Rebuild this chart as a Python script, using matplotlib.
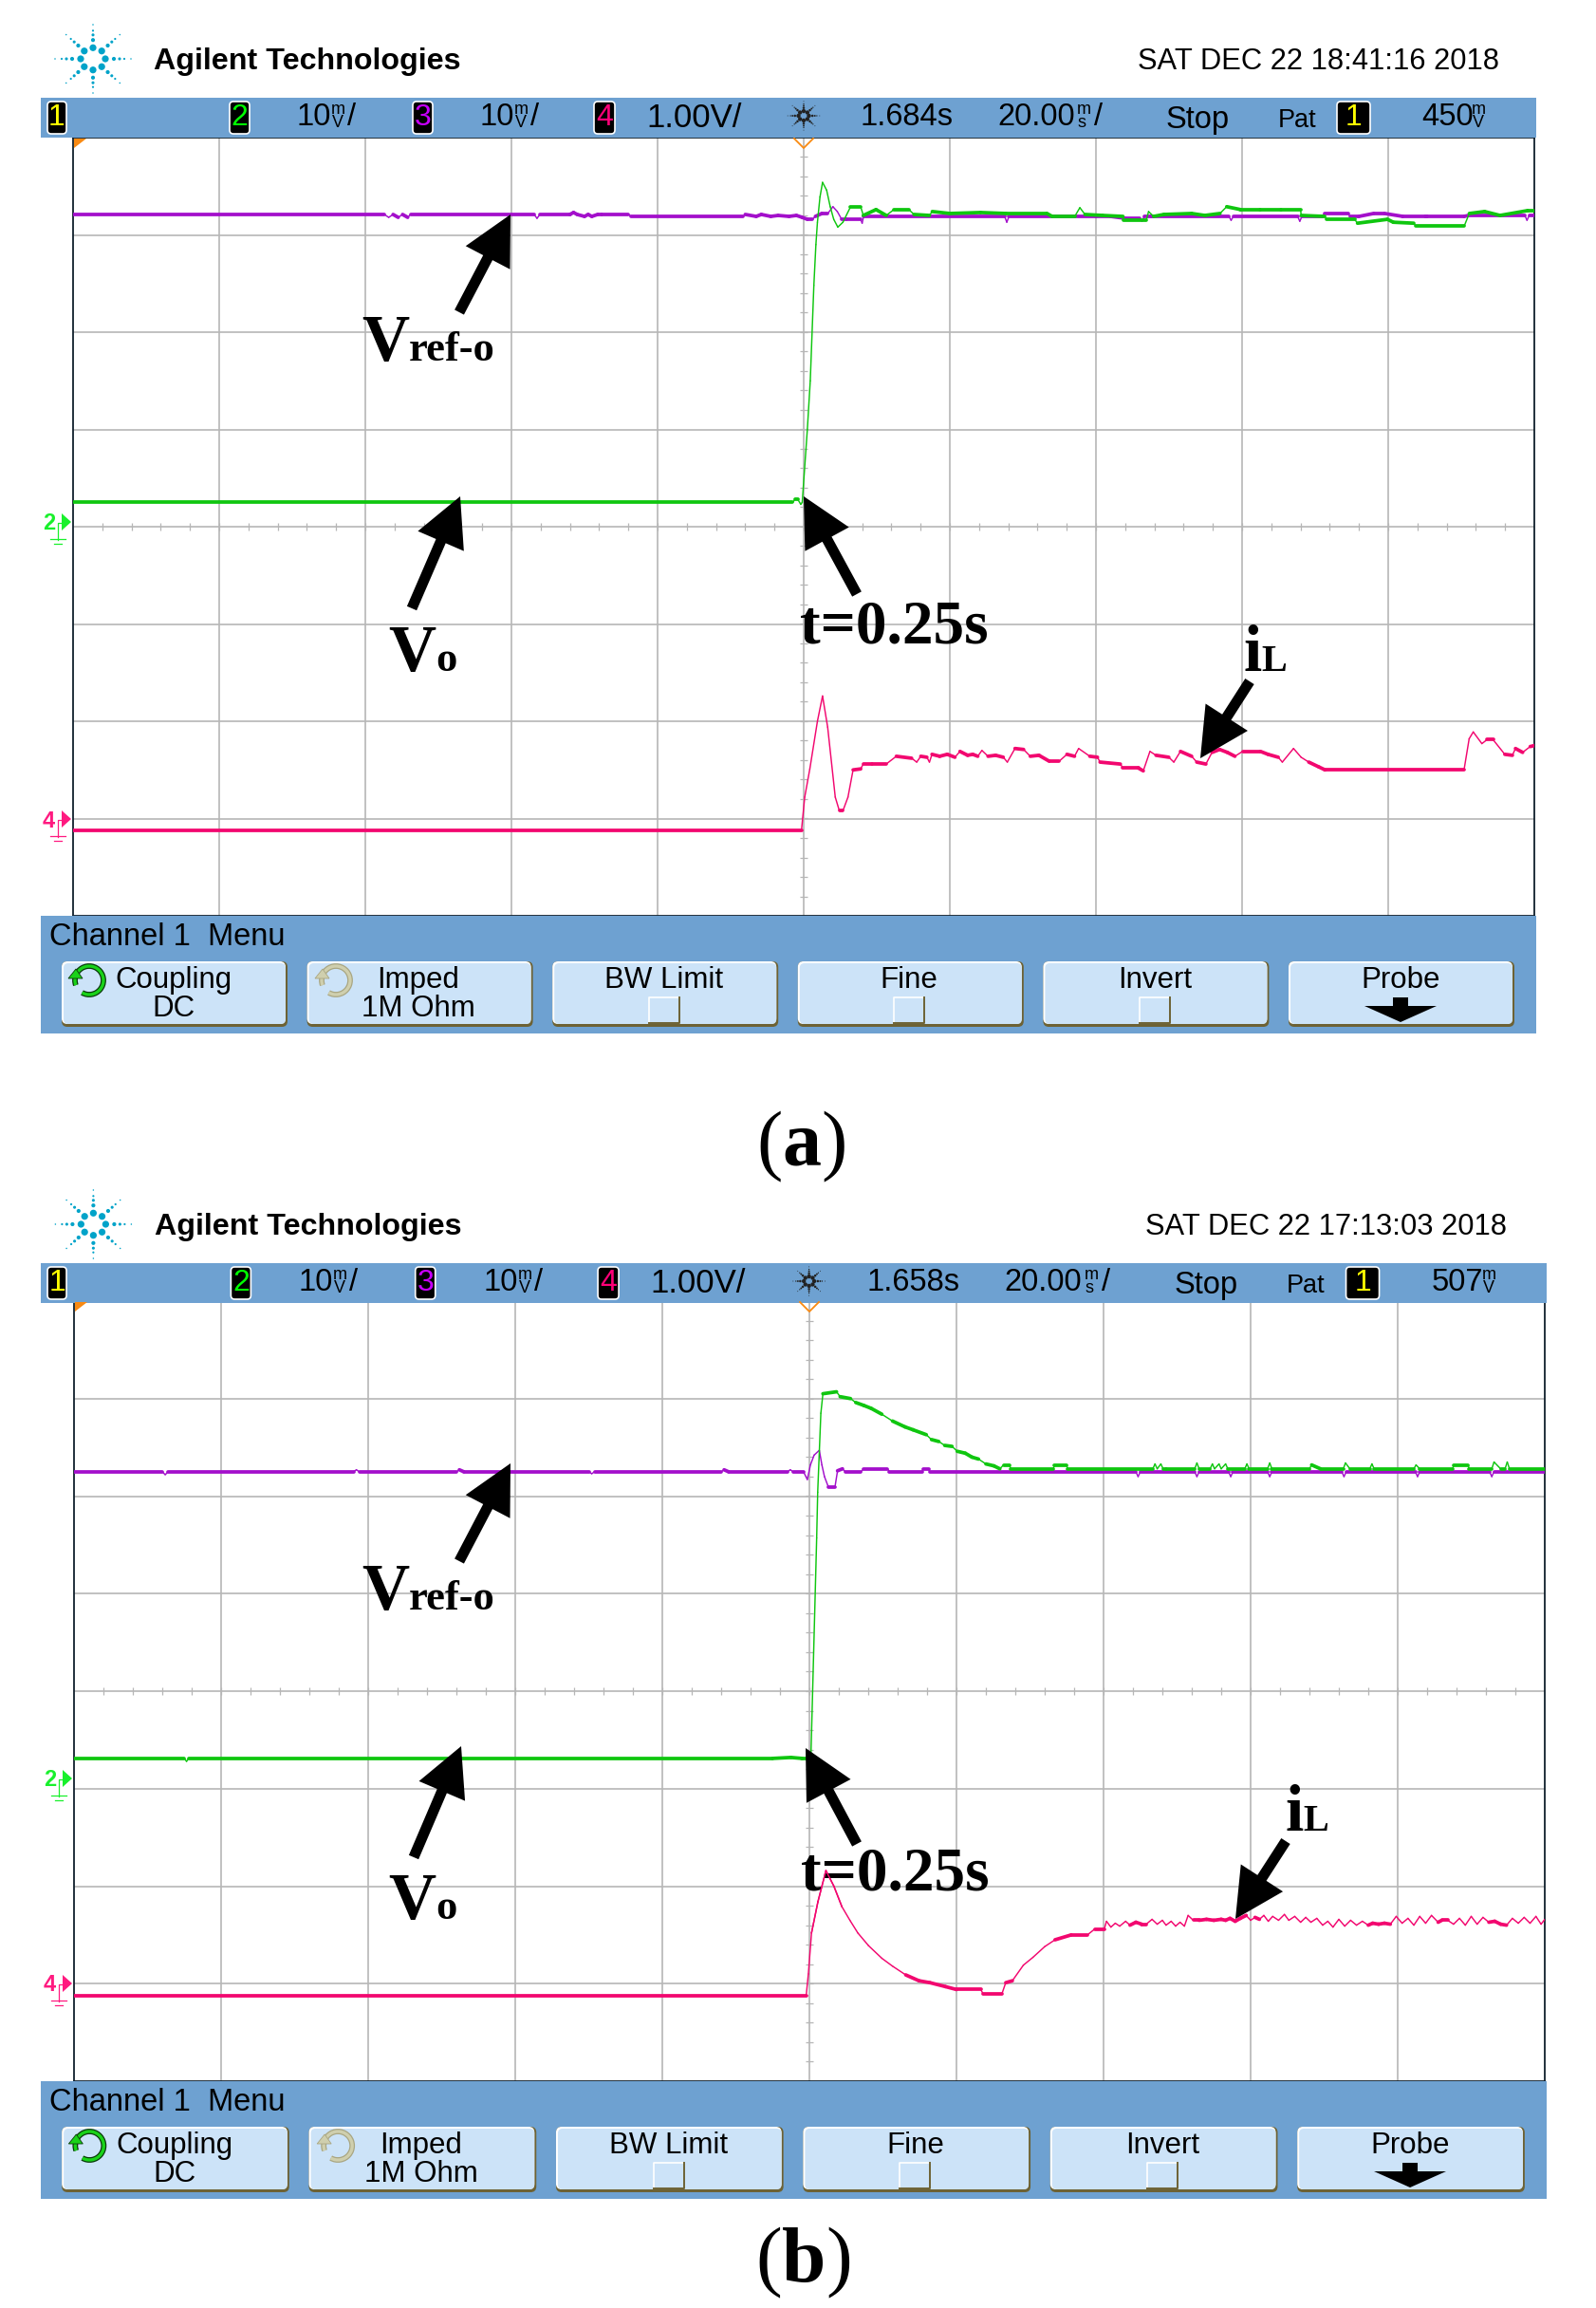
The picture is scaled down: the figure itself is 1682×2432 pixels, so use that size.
import numpy as np
import matplotlib
matplotlib.use('Agg')
import matplotlib.pyplot as plt
from matplotlib.collections import LineCollection
from matplotlib.patches import Rectangle, FancyBboxPatch, Polygon, Arc

# time in ms from the screen centre, level in divisions from the screen centre
a_purple_t = [-100, -57.4, -56.8, -56.2, -55.5, -54.9, -54.2, -53.8, -36.9, -36.5, -36.1, -32, -31.5, -31, -30, -29.5, -29, -28.2, -27.7, -24, -23.6, -8.3, -8, -6.5, -5.8, -4.5, -3.5, -2, -1, -0.2, 0.5, 1.2, 1.6, 2.5, 3.3, 4, 4.6, 5.2, 5.9, 7.8, 8, 8.2, 27.5, 27.8, 28.1, 40, 42, 44, 46, 46.3, 46.6, 47.5, 47.8, 58.2, 58.5, 58.8, 67.6, 67.9, 68.2, 71, 71.3, 74.5, 74.8, 76, 78, 79.5, 82, 85, 85.3, 90.4, 91, 98.7, 99, 99.3, 100]
a_purple_v = [3.21, 3.21, 3.18, 3.21, 3.18, 3.21, 3.18, 3.21, 3.21, 3.17, 3.21, 3.21, 3.23, 3.21, 3.19, 3.21, 3.19, 3.21, 3.21, 3.21, 3.19, 3.19, 3.21, 3.19, 3.21, 3.19, 3.2, 3.19, 3.2, 3.18, 3.16, 3.16, 3.19, 3.22, 3.22, 3.29, 3.24, 3.16, 3.16, 3.16, 3.12, 3.19, 3.19, 3.13, 3.19, 3.19, 3.19, 3.17, 3.17, 3.14, 3.19, 3.19, 3.19, 3.19, 3.15, 3.19, 3.19, 3.14, 3.19, 3.19, 3.22, 3.22, 3.19, 3.19, 3.22, 3.22, 3.19, 3.19, 3.19, 3.19, 3.2, 3.2, 3.15, 3.2, 3.2]

a_green_t = [-100, -1.5, -1.2, -0.8, -0.4, -0.2, 0.5, 0.9, 1.39, 1.67, 1.88, 2.23, 2.58, 3.14, 3.63, 4.11, 4.67, 5.37, 6.42, 7.8, 8.16, 9.9, 11.3, 12.34, 14.4, 15.1, 17.2, 17.6, 20, 24.2, 27.7, 33.3, 34, 37.1, 37.8, 38.5, 40.9, 43.7, 43.8, 46.9, 47.2, 47.9, 49.3, 53.1, 54.9, 56.97, 57.9, 59.8, 62.5, 65.3, 68, 68.1, 71.3, 71.6, 75.4, 75.8, 79.9, 80.7, 83.5, 83.8, 90.4, 91.1, 93.2, 95.3, 99.1, 100]
a_green_v = [0.25, 0.25, 0.28, 0.28, 0.23, 0.25, 1.0, 1.5, 2.48, 2.9, 3.13, 3.39, 3.54, 3.46, 3.29, 3.16, 3.08, 3.13, 3.29, 3.29, 3.2, 3.26, 3.2, 3.26, 3.26, 3.21, 3.2, 3.24, 3.22, 3.23, 3.22, 3.22, 3.19, 3.19, 3.28, 3.21, 3.2, 3.19, 3.15, 3.15, 3.24, 3.19, 3.21, 3.22, 3.2, 3.22, 3.29, 3.26, 3.26, 3.26, 3.26, 3.2, 3.19, 3.16, 3.16, 3.12, 3.16, 3.13, 3.12, 3.09, 3.09, 3.22, 3.24, 3.2, 3.25, 3.25]

a_pink_t = [-100, -0.3, 0.14, 0.84, 1.88, 2.58, 3.28, 4.32, 4.88, 5.37, 6.06, 6.76, 7.8, 8.15, 9.34, 11.29, 12.68, 14.77, 15.47, 16.03, 16.86, 17.21, 17.56, 18.61, 19.65, 20.7, 21.39, 22.44, 23.14, 23.83, 24.39, 25.23, 26.27, 27.32, 27.87, 28.92, 30.1, 31.01, 32.2, 33.59, 34.98, 36.03, 37.07, 37.63, 39.16, 40.21, 40.56, 43.34, 43.69, 45.78, 46.48, 47.39, 48.22, 49.97, 50.66, 51.57, 53.1, 53.8, 55.05, 55.89, 56.93, 57.98, 59.02, 60.07, 62.51, 63.55, 64.95, 65.51, 67.04, 68.08, 69.13, 70.52, 71.36, 90.38, 91.08, 91.64, 92.82, 93.52, 94.36, 95.96, 97.0, 97.42, 98.4, 99.44, 100]
a_pink_v = [-3.12, -3.12, -2.78, -2.49, -2.0, -1.74, -2.06, -2.78, -2.92, -2.92, -2.78, -2.50, -2.49, -2.44, -2.44, -2.44, -2.36, -2.38, -2.42, -2.36, -2.37, -2.42, -2.34, -2.36, -2.34, -2.37, -2.31, -2.35, -2.34, -2.36, -2.30, -2.36, -2.35, -2.37, -2.42, -2.28, -2.29, -2.36, -2.35, -2.41, -2.41, -2.34, -2.36, -2.28, -2.36, -2.37, -2.42, -2.44, -2.48, -2.48, -2.51, -2.31, -2.35, -2.37, -2.42, -2.31, -2.36, -2.42, -2.44, -2.32, -2.29, -2.32, -2.36, -2.31, -2.31, -2.34, -2.37, -2.42, -2.28, -2.37, -2.42, -2.47, -2.50, -2.50, -2.18, -2.11, -2.23, -2.19, -2.19, -2.34, -2.35, -2.28, -2.32, -2.26, -2.25]

b_purple_t = [-100, -88, -87.6, -87.2, -62, -61.6, -61.2, -48, -47.6, -47, -30, -29.6, -29.2, -12, -11.6, -11, -3, -2.6, -2.2, -0.8, -0.28, 0.14, 0.64, 1.35, 1.7, 2.05, 2.6, 3.47, 3.83, 4.5, 4.9, 7, 7.4, 10.6, 10.9, 15.3, 15.5, 16.2, 16.4, 44.4, 44.7, 45, 52.4, 52.7, 53, 57, 57.3, 57.6, 62.3, 62.6, 62.9, 72.4, 72.7, 73, 82.4, 82.7, 83, 92.5, 92.8, 93.1, 100]
b_purple_v = [2.25, 2.25, 2.22, 2.25, 2.25, 2.27, 2.25, 2.25, 2.27, 2.25, 2.25, 2.23, 2.25, 2.25, 2.27, 2.25, 2.25, 2.27, 2.25, 2.25, 2.17, 2.32, 2.42, 2.47, 2.32, 2.2, 2.09, 2.09, 2.26, 2.28, 2.25, 2.25, 2.28, 2.28, 2.25, 2.25, 2.28, 2.28, 2.25, 2.25, 2.2, 2.25, 2.25, 2.2, 2.25, 2.25, 2.2, 2.25, 2.25, 2.2, 2.25, 2.25, 2.2, 2.25, 2.25, 2.2, 2.25, 2.25, 2.2, 2.25, 2.25]

b_green_t = [-100, -85, -84.7, -84.4, -5, -2.5, -1, 0.2, 0.99, 1.13, 1.56, 1.84, 3.69, 4.18, 5.6, 6.3, 7.4, 8.4, 9.85, 11.3, 13, 14.1, 15.9, 16.6, 17.6, 18.4, 19.4, 20.1, 21.2, 22.1, 23, 24, 25.1, 25.9, 26.4, 27.2, 27.4, 33.2, 33.3, 35, 35.1, 46.7, 47, 47.3, 47.8, 48.1, 48.5, 52.4, 52.7, 53, 54.5, 54.8, 55.1, 55.7, 56, 56.6, 56.9, 59.2, 59.5, 59.8, 62.3, 62.6, 62.9, 68, 68.3, 69.5, 72.6, 72.9, 73.5, 76.2, 76.5, 76.8, 82.2, 82.5, 83, 87.5, 87.6, 89.6, 89.7, 92.8, 93.1, 94, 94.6, 94.9, 95.2, 100]
b_green_v = [-0.69, -0.69, -0.72, -0.69, -0.69, -0.68, -0.69, -0.69, 1.57, 2.04, 2.85, 3.05, 3.07, 3.02, 3.0, 2.96, 2.93, 2.9, 2.84, 2.77, 2.71, 2.68, 2.63, 2.58, 2.56, 2.52, 2.51, 2.46, 2.44, 2.40, 2.38, 2.33, 2.31, 2.28, 2.32, 2.32, 2.28, 2.28, 2.32, 2.32, 2.28, 2.28, 2.33, 2.28, 2.33, 2.28, 2.28, 2.28, 2.34, 2.28, 2.28, 2.33, 2.28, 2.33, 2.28, 2.33, 2.28, 2.28, 2.33, 2.28, 2.28, 2.34, 2.28, 2.28, 2.32, 2.28, 2.28, 2.34, 2.28, 2.28, 2.33, 2.28, 2.28, 2.32, 2.28, 2.28, 2.32, 2.32, 2.28, 2.28, 2.35, 2.28, 2.28, 2.35, 2.28, 2.28]

b_pink_t = [-100, -0.43, -0.14, 0.29, 1.16, 2.25, 3.33, 4.42, 5.51, 6.59, 8.04, 9.86, 11.3, 13.1, 14.9, 16.4, 18.5, 20, 23.3, 23.6, 26.2, 26.7, 27.6, 29.1, 30.4, 32, 33.4, 35.6, 37.8, 38.8, 40.1, 40.4, 41, 41.6, 42.2, 43, 43.6, 44.4, 45.2, 45.8, 46.6, 47.3, 48, 48.5, 49.2, 49.8, 50.4, 51, 51.5, 52.2, 53, 54, 55, 56, 56.6, 57.2, 57.9, 58.6, 59.4, 60, 60.6, 61.2, 61.8, 62.4, 63, 63.8, 64.6, 65.2, 66, 66.8, 67.5, 68.2, 69, 69.8, 70.5, 71.2, 72, 72.8, 73.6, 74.4, 75.2, 76, 76.6, 77.4, 78.2, 79, 79.8, 80.6, 81.4, 82.2, 83, 83.8, 84.6, 85.5, 86, 86.8, 87.6, 88.4, 89.2, 90, 90.8, 91.6, 92.4, 93.2, 94, 94.8, 95.6, 96.4, 97.2, 98, 98.8, 99.5, 100]
b_pink_v = [-3.12, -3.12, -2.9, -2.48, -2.16, -1.84, -2.0, -2.21, -2.35, -2.48, -2.61, -2.74, -2.82, -2.91, -2.97, -2.99, -3.03, -3.06, -3.06, -3.10, -3.10, -2.99, -2.97, -2.81, -2.73, -2.62, -2.55, -2.5, -2.5, -2.44, -2.44, -2.36, -2.42, -2.38, -2.41, -2.36, -2.4, -2.37, -2.39, -2.39, -2.34, -2.39, -2.35, -2.4, -2.36, -2.41, -2.37, -2.41, -2.3, -2.35, -2.35, -2.34, -2.35, -2.34, -2.35, -2.33, -2.36, -2.33, -2.3, -2.35, -2.32, -2.34, -2.3, -2.36, -2.31, -2.35, -2.29, -2.35, -2.31, -2.37, -2.32, -2.37, -2.33, -2.4, -2.36, -2.42, -2.34, -2.41, -2.35, -2.4, -2.36, -2.4, -2.38, -2.39, -2.38, -2.39, -2.31, -2.38, -2.33, -2.4, -2.31, -2.38, -2.3, -2.37, -2.35, -2.35, -2.39, -2.33, -2.4, -2.31, -2.39, -2.32, -2.37, -2.36, -2.39, -2.4, -2.33, -2.38, -2.32, -2.38, -2.31, -2.39, -2.34]

ch_names = ['Coupling', 'Imped', 'BW Limit', 'Fine', 'Invert', 'Probe']
a_bar = ['1.684s', '450']
b_bar = ['1.658s', '507']
dates = ['SAT DEC 22 18:41:16 2018', 'SAT DEC 22 17:13:03 2018']

W, H = 1682, 2432
BAR = '#6ea1d1'
BTN = '#cce3f8'
OLIVE = '#6d6234'
GREEN = '#0fc60f'
PURPLE = '#a30fcb'
PINK = '#f2076f'
GRID = '#b6b6b6'
SANS = 'Liberation Sans'
SERIF = 'Liberation Serif'

fig = plt.figure(figsize=(W / 100, H / 100), dpi=100, facecolor='white')
page = fig.add_axes([0, 0, 1, 1], zorder=3)
page.set_xlim(0, W)
page.set_ylim(H, 0)
page.axis('off')
page.patch.set_alpha(0)


def trace(ax, t, v, color, z):
    t = np.array(t, dtype=float)
    v = np.array(v, dtype=float)
    pts = np.column_stack([t, v])
    segs = np.stack([pts[:-1], pts[1:]], axis=1)
    # the scope paints flat runs thicker than the slopes
    dx = np.abs(np.diff(t)) * 7.7
    dy = np.abs(np.diff(v)) * 102.6
    widths = np.where(dy < 0.6 * dx, 2.7, 1.05)
    ax.add_collection(LineCollection(segs, colors=color, linewidths=widths, capstyle='round', zorder=z))


def spark(cx, cy, k, color):
    for ang in np.arange(0, 360, 45):
        c, s = np.cos(np.radians(ang)), np.sin(np.radians(ang))
        rs = np.array([13, 22, 28, 33, 40]) * k
        sz = np.array([27, 9, 5, 2.5, 1.2]) * max(k, 0.6) ** 2
        page.scatter(cx + rs * c, cy + rs * s * 0.9, s=sz, color=color, lw=0, zorder=5)


def arrow(tail, tip):
    page.annotate('', xy=tip, xytext=tail, zorder=8,
                  arrowprops=dict(width=8, headwidth=38, headlength=37, shrink=0, facecolor='black', edgecolor='none'))


def label(x, y, s, size, weight='bold'):
    page.text(x, y, s, fontsize=size, family=SERIF, weight=weight, va='baseline', ha='left', color='black', zorder=9)


def stacked(x, y, top, bottom):
    page.text(x, y - 8, top, fontsize=13, family=SANS, ha='left', va='center', color='black', zorder=6)
    page.text(x + 1, y + 6, bottom, fontsize=13, family=SANS, ha='left', va='center', color='black', zorder=6)


def panel(dy, k, box, date, bar, traces, markers):
    sx = lambda x: 43 + (x - 43) * k
    # header and top bar
    page.text(sx(162), 65 + dy, 'Agilent Technologies', fontsize=23.2, family=SANS, weight='bold', va='center', color='black')
    page.text(sx(1199), 65 + dy, date, fontsize=22.2, family=SANS, va='center', color='black')
    spark(sx(98), 62 + dy, 1.0, '#00a3c9')
    left, right, top, bottom = box
    page.add_patch(Rectangle((43, 103 + dy), sx(1619) - 43, 42, fc=BAR, ec='none', zorder=2))
    page.add_patch(Rectangle((43, bottom), sx(1619) - 43, 1089 + dy - bottom, fc=BAR, ec='none', zorder=2))
    txt = dict(fontsize=23.5, family=SANS, va='center', color='black', zorder=6)
    for x0, x1, s, col in [(48, 72, '1', '#ffff00'), (240, 265, '2', '#00ff00'), (433, 458, '3', '#c800ff'),
                           (624, 650, '4', '#ff0078'), (1407, 1446, '1', '#ffff00')]:
        page.add_patch(FancyBboxPatch((sx(x0) + 2, 107 + dy), x1 - x0 - 4, 34, boxstyle='round,pad=0,rounding_size=4',
                                      fc='black', ec='white', lw=1.2, zorder=5))
        page.text((sx(x0) + sx(x1)) / 2, 124 + dy, s, fontsize=23, family=SANS, ha='center', va='center', color=col, zorder=6)
    page.text(sx(313), 124 + dy, '10', **txt)
    stacked(sx(349), 124 + dy, 'm', 'V')
    page.text(sx(366), 124 + dy, '/', **txt)
    page.text(sx(506), 124 + dy, '10', **txt)
    stacked(sx(542), 124 + dy, 'm', 'V')
    page.text(sx(559), 124 + dy, '/', **txt)
    page.text(sx(681), 124 + dy, '1.00V/', fontsize=25, family=SANS, va='center', color='black', zorder=6)
    spark(sx(847), 122 + dy, 0.42, '#222222')
    page.text(sx(907), 124 + dy, bar[0], **txt)
    page.text(sx(1051), 124 + dy, '20.00', **txt)
    stacked(sx(1135), 124 + dy, 'm', 's')
    page.text(sx(1153), 124 + dy, '/', **txt)
    page.text(sx(1229), 126 + dy, 'Stop', **txt)
    page.text(sx(1347), 127 + dy, 'Pat', fontsize=19.5, family=SANS, va='center', color='black', zorder=6)
    page.text(sx(1498), 124 + dy, bar[1], **txt)
    stacked(sx(1551), 124 + dy, 'm', 'V')

    # screen
    ax = fig.add_axes([left / W, 1 - bottom / H, (right - left) / W, (bottom - top) / H], zorder=1)
    ax.set_xlim(-100, 100)
    ax.set_ylim(-4, 4)
    ax.set_xticks(np.arange(-80, 100, 20))
    ax.set_yticks(np.arange(-3, 4, 1))
    ax.tick_params(length=0, labelbottom=False, labelleft=False)
    ax.grid(True, color=GRID, lw=1.2)
    ax.set_axisbelow(True)
    for sp in ax.spines.values():
        sp.set_color('#10202c')
        sp.set_linewidth(1.3)
    ax.plot(np.arange(-96, 100, 4), np.zeros(49), ls='none', marker='|', ms=6, mew=0.9, color=GRID, zorder=1)
    ax.plot(np.zeros(39), np.arange(-3.8, 4, 0.2), ls='none', marker='_', ms=6, mew=0.9, color=GRID, zorder=1)
    for t, v, col, z in traces:
        trace(ax, t, v, col, z)

    # trigger marks
    page.add_patch(Polygon([(left + 1, top + 1), (left + 14, top + 1), (left + 1, top + 11)], fc='#f98a12', ec='none', zorder=6))
    cx = (left + right) / 2
    page.plot([cx - 10, cx, cx + 10], [top + 1, top + 11, top + 1], color='#f98a12', lw=1.3, zorder=6)
    for y, s, col in markers:
        page.text(left - 32, y - 3, s, fontsize=17, family=SANS, weight='bold', ha='left', va='center', color=col, zorder=6)
        page.add_patch(Polygon([(left - 12, y - 14), (left - 2, y - 5), (left - 12, y + 4)], fc=col, ec='none', zorder=6))
        page.plot([left - 16, left - 16, left - 12], [y + 14, y - 4, y - 4], color=col, lw=0.9, zorder=6)
        page.plot([left - 24, left - 8], [y + 13, y + 13], color=col, lw=0.9, zorder=6)
        page.plot([left - 20, left - 12], [y + 18, y + 18], color=col, lw=0.9, zorder=6)

    # menu strip
    page.text(sx(52), 987 + dy, 'Channel 1  Menu', fontsize=23.5, family=SANS, va='center', color='black', zorder=6)
    for i, name in enumerate(ch_names):
        x0 = sx(65 + 258.6 * i)
        w = 238 * k
        page.add_patch(FancyBboxPatch((x0, 1013 + dy), w, 69, boxstyle='round,pad=0,rounding_size=6', fc=OLIVE, ec='none', zorder=3))
        page.add_patch(FancyBboxPatch((x0, 1013 + dy), w - 2, 66, boxstyle='round,pad=0,rounding_size=6', fc='white', ec='none', zorder=3))
        page.add_patch(FancyBboxPatch((x0 + 2, 1015 + dy), w - 4, 64, boxstyle='round,pad=0,rounding_size=5', fc=BTN, ec='none', zorder=3))
    menu = dict(fontsize=22.5, family=SANS, ha='center', va='center', color='black', zorder=6)
    page.text(sx(183), 1033 + dy, ch_names[0], **menu)
    page.text(sx(183), 1063 + dy, 'DC', **menu)
    page.text(sx(441), 1033 + dy, ch_names[1], **menu)
    page.text(sx(441), 1063 + dy, '1M Ohm', **menu)
    page.text(sx(700), 1033 + dy, ch_names[2], **menu)
    page.text(sx(958), 1033 + dy, ch_names[3], **menu)
    page.text(sx(1217), 1033 + dy, ch_names[4], **menu)
    page.text(sx(1476), 1033 + dy, ch_names[5], **menu)
    for cxb in [700, 958, 1217]:
        xb = sx(cxb) - 16
        page.plot([xb, xb, xb + 32], [1078 + dy, 1051 + dy, 1051 + dy], color='white', lw=1.2, zorder=6)
        page.plot([xb, xb + 32, xb + 32], [1078 + dy, 1078 + dy, 1051 + dy], color=OLIVE, lw=1.4, zorder=6)
    xp = sx(1476)
    page.add_patch(Polygon([(xp - 8, 1051 + dy), (xp + 8, 1051 + dy), (xp + 8, 1060 + dy), (xp + 38, 1060 + dy),
                            (xp, 1077 + dy), (xp - 38, 1060 + dy), (xp - 8, 1060 + dy)], fc='black', ec='none', zorder=6))
    for xc, col, edge in [(sx(92), '#19d219', '#0a3a0a'), (sx(352), '#cfcfae', '#a9a682')]:
        page.add_patch(Arc((xc + 2, 1033 + dy), 30, 30, theta1=-200, theta2=120, color=edge, lw=4.2, zorder=6))
        page.add_patch(Arc((xc + 2, 1033 + dy), 30, 30, theta1=-200, theta2=120, color=col, lw=2.4, zorder=6))
        page.add_patch(Polygon([(xc - 20, 1031 + dy), (xc - 5, 1031 + dy), (xc - 12, 1021 + dy)], fc=col, ec=edge, lw=0.6, zorder=7))
    return ax


panel(0, 1.0, (77, 1617, 145, 965), dates[0], a_bar,
      [(a_purple_t, a_purple_v, PURPLE, 3), (a_green_t, a_green_v, GREEN, 4), (a_pink_t, a_pink_v, PINK, 5)],
      [(555, '2', '#19f02c'), (868, '4', '#ff1a80')])
ax_b = panel(1228, 1.007, (78, 1628, 1371, 2193), dates[1], b_bar,
             [(b_purple_t, b_purple_v, PURPLE, 3), (b_green_t, b_green_v, GREEN, 4), (b_pink_t, b_pink_v, PINK, 5)],
             [(1879, '2', '#19f02c'), (2095, '4', '#ff1a80')])

# annotations added on top of the screenshots
arrow((484, 329), (538, 226))
arrow((434, 641), (485, 523))
arrow((903, 626), (847, 523))
arrow((1317, 718), (1265, 799))
arrow((484, 1645), (538, 1542))
arrow((436, 1957), (486, 1840))
arrow((903, 1943), (849, 1842))
arrow((1355, 1940), (1302, 2022))

for xv, xs, base in [(381, 431, 380), (381, 431, 1696)]:
    label(xv, base, 'V', 50)
    label(xs, base, 'ref-o', 32)
for xv, xs, base in [(409, 459, 707), (409, 459, 2022)]:
    label(xv, base, 'V', 50)
    label(xs, base, 'o', 32)
label(843, 677, 't=0.25s', 47)
label(844, 1992, 't=0.25s', 47)
for xi, xl, base in [(1311, 1329, 707), (1355, 1373, 1929)]:
    label(xi, base, 'i', 50)
    label(xl, base, 'L', 29)
label(797, 1228, '(', 59, 'normal')
label(824, 1228, 'a', 59)
label(865, 1228, ')', 59, 'normal')
label(796, 2404, '(', 60, 'normal')
label(824, 2404, 'b', 60)
label(870, 2404, ')', 60, 'normal')

# in (b) the current peak shows through the label
ax_top = fig.add_axes(ax_b.get_position(), zorder=4)
ax_top.set_xlim(-100, 100)
ax_top.set_ylim(-4, 4)
ax_top.axis('off')
ax_top.patch.set_alpha(0)
trace(ax_top, b_pink_t[3:8], b_pink_v[3:8], PINK, 5)

fig.savefig('out.png', dpi=100, facecolor='white')
